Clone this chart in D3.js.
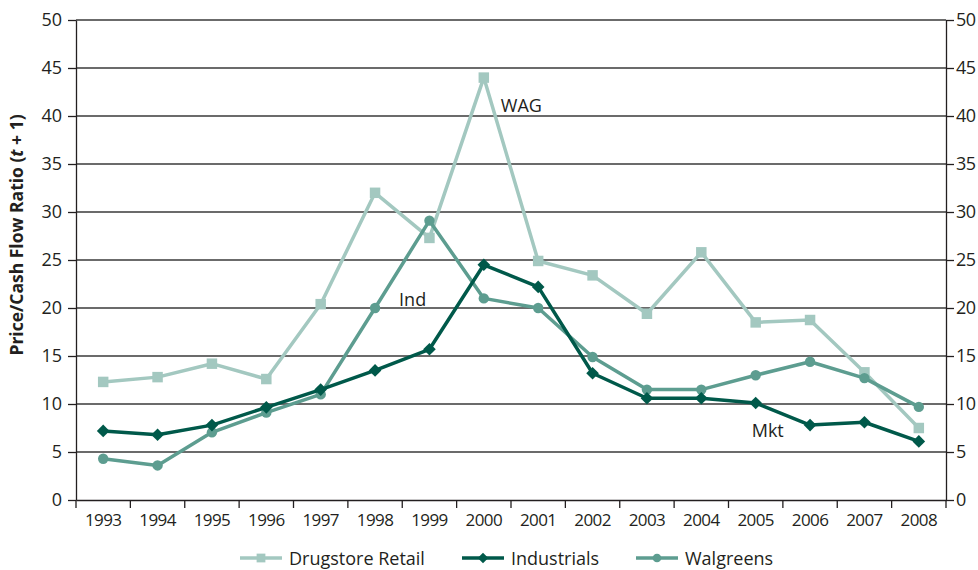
<!DOCTYPE html>
<html><head><meta charset="utf-8">
<script src="https://cdn.jsdelivr.net/npm/d3@7"></script>
<style>
body{margin:0;background:#fff;}
svg text{font-family:"Open Sans","Noto Sans",sans-serif;fill:#231f20;}
</style></head>
<body><svg id="c" width="978" height="570"></svg>
<script>
const years = ["1993","1994","1995","1996","1997","1998","1999","2000","2001","2002","2003","2004","2005","2006","2007","2008"];
const drugstore = [12.3,12.8,14.2,12.6,20.4,32.0,27.3,44.0,24.9,23.4,19.4,25.8,18.5,18.75,13.3,7.5];
const industrials = [7.2,6.8,7.8,9.65,11.5,13.5,15.7,24.5,22.2,13.2,10.6,10.6,10.1,7.8,8.1,6.1];
const walgreens = [4.3,3.6,7.05,9.1,11.0,20.0,29.1,21.0,20.0,14.9,11.5,11.5,13.0,14.4,12.7,9.7];
const yTicks = [0,5,10,15,20,25,30,35,40,45,50];
const seriesNames = ["Drugstore Retail","Industrials","Walgreens"];
const annotations = [{text:"WAG",year:"2000",v:40.4,dx:17},{text:"Ind",year:"1998",v:20.2,dx:24},{text:"Mkt",year:"2005",v:6.6,dx:-4}];

const svg = d3.select("#c");
const L=76, R=946, T=20, B=500;
const x = d3.scaleBand().domain(years).range([L,R]);
const y = d3.scaleLinear().domain([0,50]).range([B,T]);
const cx = d => x(d)+x.bandwidth()/2;

svg.append("g").selectAll("line").data(yTicks.filter(d=>d>0)).join("line")
  .attr("x1",L).attr("x2",R).attr("y1",d=>y(d)).attr("y2",d=>y(d))
  .attr("stroke","#3a3a3a").attr("stroke-width",1.5);

const yl = svg.append("g").attr("transform",`translate(${L},0)`)
  .call(d3.axisLeft(y).tickValues(yTicks).tickSize(8).tickSizeOuter(0).tickPadding(6));
const yr = svg.append("g").attr("transform",`translate(${R},0)`)
  .call(d3.axisRight(y).tickValues(yTicks).tickSize(8).tickSizeOuter(0).tickPadding(2));
[yl,yr].forEach(g=>{
  g.select(".domain").attr("stroke","#231f20").attr("stroke-width",1.3);
  g.selectAll(".tick line").attr("stroke","#231f20").attr("stroke-width",1.3);
  g.selectAll(".tick text").attr("font-size",18).attr("font-family","Open Sans").attr("fill","#231f20");
});
yr.selectAll(".tick text").attr("letter-spacing","-0.5");
const xb = svg.append("g").attr("transform",`translate(0,${B})`)
  .call(d3.axisBottom(x).tickSize(0).tickPadding(14));
xb.select(".domain").attr("stroke","#231f20").attr("stroke-width",1.3);
xb.selectAll(".tick text").attr("font-size",17).attr("font-family","Open Sans").attr("fill","#231f20").attr("letter-spacing","-0.6");
const bounds = years.map(d=>x(d)).concat([R]);
xb.append("g").selectAll("line").data(bounds).join("line")
  .attr("x1",d=>d).attr("x2",d=>d).attr("y1",0).attr("y2",8)
  .attr("stroke","#231f20").attr("stroke-width",1.3);

const yt = svg.append("text").attr("transform","translate(23,235) rotate(-90)")
  .attr("text-anchor","middle").attr("font-size",17.5).attr("font-weight","bold");
yt.append("tspan").text("Price/Cash Flow Ratio (");
yt.append("tspan").attr("font-style","italic").text("t");
yt.append("tspan").text(" + 1)");

const colors = ["#a3c8c0","#00594a","#5d9d90"];
const widths = [3.5,3.5,3.5];
const data = [drugstore,industrials,walgreens];
const line = d3.line().x((d,i)=>cx(years[i])).y(d=>y(d));
const sym = [d3.symbolSquare,d3.symbolSquare,d3.symbolCircle];
const rot = [0,45,0];
const symSize = [110,80,85];
const order = [0,2,1];
order.forEach(k=>{
  svg.append("path").datum(data[k]).attr("d",line).attr("fill","none")
    .attr("stroke",colors[k]).attr("stroke-width",widths[k]).attr("stroke-linejoin","round");
  svg.append("g").selectAll("path").data(data[k]).join("path")
    .attr("transform",(d,i)=>`translate(${cx(years[i])},${y(d)}) rotate(${rot[k]})`)
    .attr("d",d3.symbol().type(sym[k]).size(symSize[k])).attr("fill",colors[k]);
});

annotations.forEach(a=>{
  svg.append("text").attr("x",cx(a.year)+a.dx).attr("y",y(a.v)).attr("font-size",18).text(a.text);
});

const legX = [240,462,636];
seriesNames.forEach((n,k)=>{
  const g = svg.append("g").attr("transform",`translate(${legX[k]},558)`);
  g.append("line").attr("x1",0).attr("x2",42).attr("stroke",colors[k]).attr("stroke-width",3.5);
  g.append("path").attr("transform",`translate(21,0) rotate(${rot[k]})`).attr("d",d3.symbol().type(sym[k]).size(symSize[k]*0.7)).attr("fill",colors[k]);
  g.append("text").attr("x",49).attr("y",6.5).attr("font-size",18).text(n);
});
</script></body></html>
